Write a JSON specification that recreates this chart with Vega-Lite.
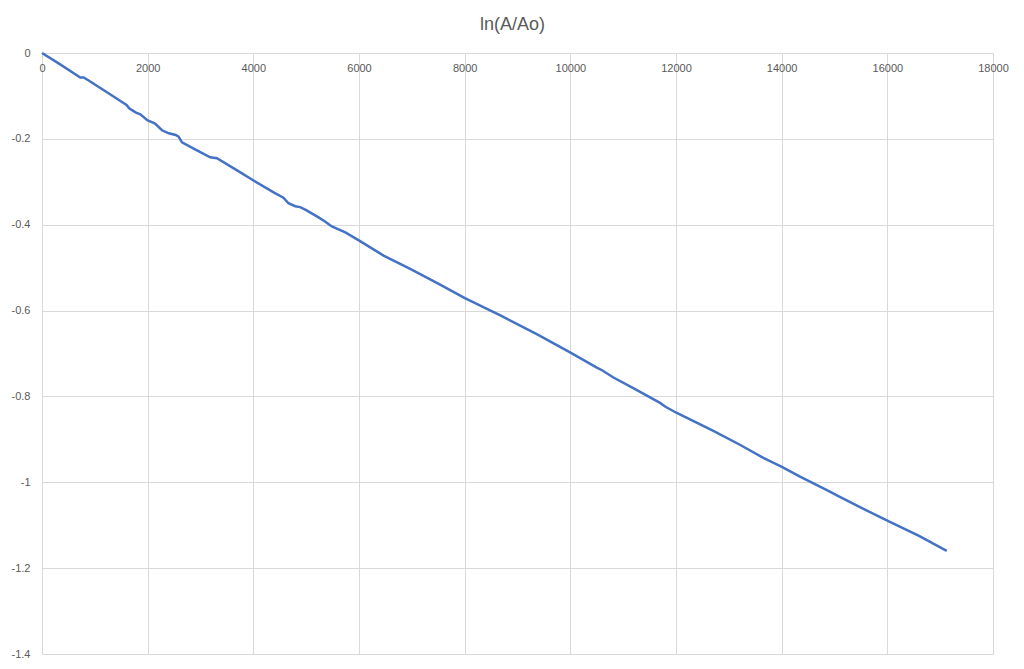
{
  "$schema": "https://vega.github.io/schema/vega-lite/v6.json",
  "autosize": {"type": "none"},
  "width": 951,
  "height": 601,
  "padding": {"left": 42, "top": 53, "right": 31, "bottom": 15},
  "background": "white",
  "title": {
    "text": "ln(A/Ao)",
    "anchor": "middle",
    "dx": -5,
    "offset": 13,
    "font": "Liberation Sans",
    "fontSize": 18,
    "fontWeight": "normal",
    "color": "#595959"
  },
  "config": {
    "view": {"stroke": null},
    "axis": {
      "labelFont": "Liberation Sans",
      "labelFontSize": 11,
      "labelColor": "#595959",
      "gridColor": "#D9D9D9",
      "gridWidth": 1,
      "ticks": false,
      "tickSize": 0,
      "domainColor": "#D9D9D9",
      "title": null
    }
  },
  "data": {
    "values": [
      {"t": 0, "v": 0},
      {"t": 300, "v": -0.023},
      {"t": 725, "v": -0.057},
      {"t": 788, "v": -0.057},
      {"t": 883, "v": -0.064},
      {"t": 1200, "v": -0.089},
      {"t": 1514, "v": -0.114},
      {"t": 1600, "v": -0.121},
      {"t": 1650, "v": -0.129},
      {"t": 1703, "v": -0.133},
      {"t": 1780, "v": -0.139},
      {"t": 1861, "v": -0.143},
      {"t": 2000, "v": -0.157},
      {"t": 2112, "v": -0.163},
      {"t": 2145, "v": -0.165},
      {"t": 2271, "v": -0.180},
      {"t": 2400, "v": -0.187},
      {"t": 2530, "v": -0.191},
      {"t": 2585, "v": -0.195},
      {"t": 2649, "v": -0.208},
      {"t": 2933, "v": -0.227},
      {"t": 3184, "v": -0.243},
      {"t": 3311, "v": -0.245},
      {"t": 3700, "v": -0.274},
      {"t": 4004, "v": -0.297},
      {"t": 4400, "v": -0.326},
      {"t": 4570, "v": -0.337},
      {"t": 4665, "v": -0.350},
      {"t": 4792, "v": -0.357},
      {"t": 4887, "v": -0.359},
      {"t": 5000, "v": -0.366},
      {"t": 5234, "v": -0.383},
      {"t": 5350, "v": -0.392},
      {"t": 5486, "v": -0.404},
      {"t": 5741, "v": -0.418},
      {"t": 6005, "v": -0.437},
      {"t": 6465, "v": -0.472},
      {"t": 6969, "v": -0.503},
      {"t": 7500, "v": -0.537},
      {"t": 8004, "v": -0.571},
      {"t": 8685, "v": -0.612},
      {"t": 9400, "v": -0.657},
      {"t": 10003, "v": -0.698},
      {"t": 10501, "v": -0.733},
      {"t": 10600, "v": -0.739},
      {"t": 10816, "v": -0.756},
      {"t": 11200, "v": -0.781},
      {"t": 11698, "v": -0.815},
      {"t": 11800, "v": -0.824},
      {"t": 12006, "v": -0.838},
      {"t": 12707, "v": -0.880},
      {"t": 13200, "v": -0.912},
      {"t": 13653, "v": -0.943},
      {"t": 14003, "v": -0.964},
      {"t": 14348, "v": -0.987},
      {"t": 14884, "v": -1.020},
      {"t": 15073, "v": -1.032},
      {"t": 15482, "v": -1.058},
      {"t": 16009, "v": -1.090},
      {"t": 16600, "v": -1.125},
      {"t": 17124, "v": -1.160}
    ]
  },
  "mark": {"type": "line", "color": "#4472C4", "strokeWidth": 2.5, "interpolate": "linear"},
  "encoding": {
    "x": {
      "field": "t",
      "type": "quantitative",
      "scale": {"domain": [0, 18000], "nice": false, "zero": false},
      "axis": {
        "orient": "bottom",
        "offset": -601,
        "values": [0, 2000, 4000, 6000, 8000, 10000, 12000, 14000, 16000, 18000],
        "format": "d",
        "labelPadding": 9,
        "labelFlush": false,
        "domain": true,
        "grid": true
      }
    },
    "y": {
      "field": "v",
      "type": "quantitative",
      "scale": {"domain": [-1.4, 0], "nice": false, "zero": false},
      "axis": {
        "orient": "left",
        "values": [0, -0.2, -0.4, -0.6, -0.8, -1, -1.2, -1.4],
        "labelExpr": "datum.value == 0 ? '0' : '-' + format(-datum.value, '.1~f')",
        "labelPadding": 12,
        "labelFlush": false,
        "domain": false,
        "grid": true
      }
    }
  }
}
